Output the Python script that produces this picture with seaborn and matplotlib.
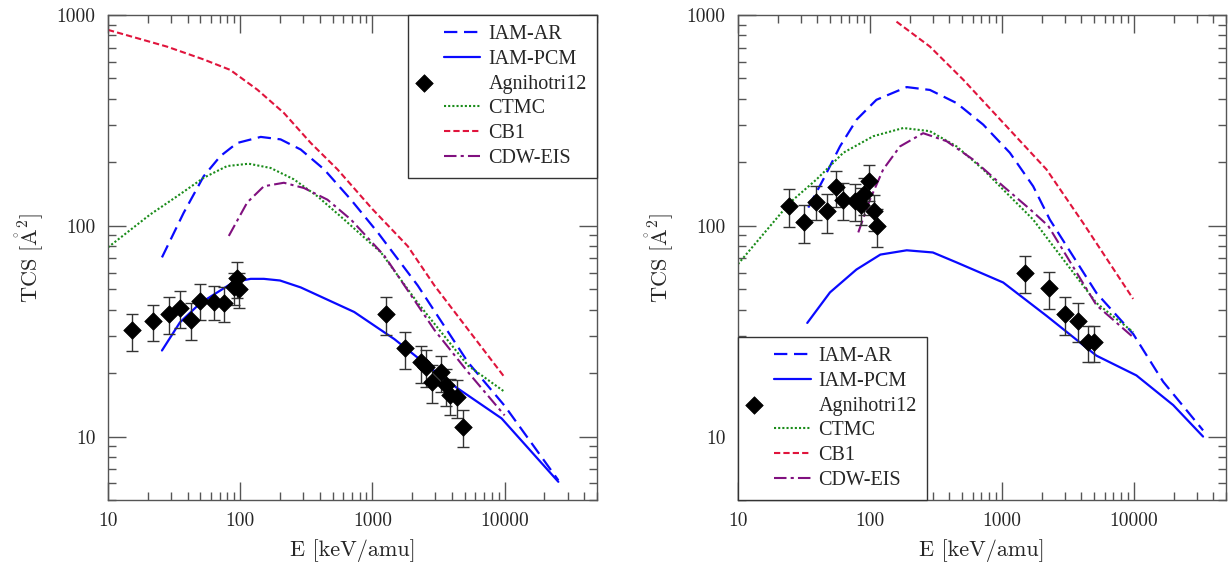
import numpy as np
import pandas as pd
import matplotlib
matplotlib.use("Agg")
import matplotlib.pyplot as plt
import matplotlib.ticker as mticker
from matplotlib.collections import PathCollection
from matplotlib.lines import Line2D
from matplotlib.legend_handler import HandlerLine2D, HandlerPathCollection
import seaborn as sns

# ---------------- data ----------------
# Left panel
L_iamar_x = [25.6, 37.3, 53, 70.8, 94.8, 143, 202, 287, 432, 688, 1097, 2206, 5290, 10000, 25500]
L_iamar_y = [70.8, 115, 172, 214, 247, 264, 257, 230, 185, 133, 93, 52, 22.5, 14, 6.2]
L_iampcm_x = [25.6, 35, 50, 89, 120, 151, 200, 287, 728, 1465, 3730, 9480, 25500]
L_iampcm_y = [25.6, 34.8, 43, 54, 56, 56, 55, 51, 39, 29, 18.2, 12.2, 6.1]
L_ctmc_x = [10, 20.8, 33.3, 53, 79.6, 116, 170, 255, 384, 612, 1161, 2206, 5290, 10000]
L_ctmc_y = [79, 113, 138, 169, 192, 197, 188, 166, 138, 107, 74.7, 43, 21.7, 16.3]
L_cb1_x = [10, 27.9, 53, 84, 135, 214, 342, 545, 1000, 1852, 2950, 10000]
L_cb1_y = [850, 708, 615, 549, 442, 343, 247, 185, 120, 80, 52, 19.1]
L_cdw_x = [82, 113, 151, 214, 304, 457, 688, 1233, 2950, 5290, 10000]
L_cdw_y = [89.5, 129, 154, 160, 151, 133, 107, 72, 32, 20.2, 12.6]
L_exp_x = [15.1, 21.8, 29, 35.2, 42.5, 49.4, 63, 76, 89.4, 94.8, 97.7,
           1268, 1770, 2313, 2555, 2820, 3316, 3620, 3840, 4390, 4850]
L_exp_y = [31.9, 35.3, 38.2, 40.7, 35.9, 44.2, 43.7, 43, 51, 56.3, 50.1,
           38.2, 26.2, 22.5, 21.4, 18.2, 20.2, 17.5, 15.7, 15.4, 11.1]
L_exp_err = [6.3, 7, 7.5, 8.1, 7.1, 8.6, 8.1, 8, 9, 10.7, 9.5,
             7.8, 5.3, 4.5, 4.3, 3.7, 4, 3.5, 3.1, 3.1, 2.2]

# Right panel
R_iamar_x = [34.1, 44.3, 59.3, 79.3, 112, 190, 285, 454, 722, 1150, 1727, 2310, 5210, 9890, 16700, 33500]
R_iamar_y = [122, 166, 238, 319, 396, 455, 441, 382, 302, 222, 154, 107, 48, 30.7, 18.2, 10.7]
R_iampcm_x = [33.5, 49.8, 79, 120, 190, 300, 454, 1024, 2180, 5210, 10470, 19900, 33500]
R_iampcm_y = [34.6, 48.3, 62, 73, 76.5, 74.7, 67, 53.8, 37.4, 24.2, 19.5, 14.1, 10]
R_ctmc_x = [10, 24.8, 39.4, 62.8, 106, 179, 285, 454, 722, 1150, 1727, 2310, 5210, 9890]
R_ctmc_y = [65.8, 129, 166, 222, 266, 291, 281, 238, 185, 138, 107, 84, 43, 31.3]
R_cb1_x = [159, 285, 510, 1024, 2180, 4135, 9890]
R_cb1_y = [930, 708, 493, 308, 185, 103, 45]
R_cdw_x = [81.6, 100, 126, 169, 253, 381, 606, 1024, 1629, 2244, 5210, 9890]
R_cdw_y = [93, 133, 185, 238, 275, 252, 206, 154, 120, 100, 42, 29.6]
R_exp_x = [24.3, 31.8, 39, 47, 55, 62, 77, 85, 90.6, 98.9, 107, 114,
           1503, 2270, 3020, 3810, 4510, 5000]
R_exp_y = [124, 104, 130, 117, 152, 133, 131, 126, 141, 163, 117, 99.7,
           60, 50.5, 38.2, 35.5, 28.1, 28.1]
R_exp_err = [25, 21, 24, 25, 29, 27, 26, 25, 28, 32, 23, 20,
             12, 10, 7.8, 7.4, 5.5, 5.5]

x_ticks = [10, 100, 1000, 10000]
x_ticklabels = ["10", "100", "1000", "10000"]
y_ticks = [10, 100, 1000]
y_ticklabels = ["10", "100", "1000"]
labels = ["IAM-AR", "IAM-PCM", "Agnihotri12", "CTMC", "CB1", "CDW-EIS"]

# ---------------- styling ----------------
sns.set_theme(style="white")
plt.rcParams["mathtext.fontset"] = "cm"
plt.rcParams["font.family"] = ["DejaVu Serif"]

BLUE = "#0a0aff"
RED = "#e0143c"
GREEN = "#1a8c1a"
PURPLE = "#80107f"
SPINE = "#555555"

fig = plt.figure(figsize=(12.3, 5.67), dpi=100)
axL = fig.add_axes([108 / 1230, 67 / 567, 489 / 1230, 485 / 567])
axR = fig.add_axes([738 / 1230, 67 / 567, 488 / 1230, 485 / 567])

styles = {
    "IAM-AR": dict(color=BLUE, linestyle=(0, (6, 3)), linewidth=1.6),
    "IAM-PCM": dict(color=BLUE, linestyle="-", linewidth=1.6),
    "CTMC": dict(color=GREEN, linestyle=(0, (1, 1)), linewidth=1.5),
    "CB1": dict(color=RED, linestyle=(0, (3, 1.5)), linewidth=1.5),
    "CDW-EIS": dict(color=PURPLE, linestyle=(0, (6, 2, 1.5, 2)), linewidth=1.5),
}


class RightLine(HandlerLine2D):
    def get_xdata(self, legend, xdescent, ydescent, width, height, fontsize):
        xd = np.array([-xdescent + 0.42 * width, -xdescent + width])
        return xd, xd


class LeftMarker(HandlerPathCollection):
    def get_xdata(self, legend, xdescent, ydescent, width, height, fontsize):
        xd = np.array([-xdescent + 0.1 * width])
        return xd, xd


def draw(ax, curves, ex, ey, eerr, legend_loc):
    for name, (xs, ys) in curves.items():
        df = pd.DataFrame({"E": xs, "TCS": ys})
        sns.lineplot(data=df, x="E", y="TCS", ax=ax, sort=False,
                     label=name, **styles[name])
    dfe = pd.DataFrame({"E": ex, "TCS": ey, "err": eerr})
    ax.errorbar(dfe["E"], dfe["TCS"], yerr=dfe["err"], fmt="none",
                ecolor="#333333", elinewidth=1.0, capsize=4, capthick=1.0,
                zorder=3)
    sns.scatterplot(data=dfe, x="E", y="TCS", ax=ax, marker="D", s=80,
                    color="black", edgecolor="black", linewidth=0.5,
                    label="Agnihotri12", zorder=4)
    ax.set_xscale("log")
    ax.set_yscale("log")
    ax.set_xlim(10, 5e4)
    ax.set_ylim(5, 1000)
    ax.xaxis.set_major_locator(mticker.FixedLocator(x_ticks))
    ax.xaxis.set_major_formatter(mticker.FixedFormatter(x_ticklabels))
    ax.yaxis.set_major_locator(mticker.FixedLocator(y_ticks))
    ax.yaxis.set_major_formatter(mticker.FixedFormatter(y_ticklabels))
    ax.xaxis.set_minor_locator(mticker.LogLocator(base=10, subs=np.arange(2, 10), numticks=20))
    ax.yaxis.set_minor_locator(mticker.LogLocator(base=10, subs=np.arange(2, 10), numticks=20))
    ax.xaxis.set_minor_formatter(mticker.NullFormatter())
    ax.yaxis.set_minor_formatter(mticker.NullFormatter())
    ax.tick_params(which="both", direction="in", top=True, right=True,
                   bottom=True, left=True, color=SPINE, width=1.0)
    ax.tick_params(which="major", length=13, labelsize=14, pad=9)
    ax.tick_params(which="minor", length=6)
    for lab in ax.get_xticklabels() + ax.get_yticklabels():
        lab.set_family("cmr10")
    for sp in ax.spines.values():
        sp.set_color(SPINE)
        sp.set_linewidth(1.0)
    ax.set_xlabel("E [keV/amu]", fontsize=16, family="cmr10", labelpad=6)
    ax.set_ylabel(r"TCS [$\mathring{\mathrm{A}}^2$]", fontsize=16, labelpad=8)
    ax.yaxis.label.set_family("cmr10")

    handles, labs = ax.get_legend_handles_labels()
    order = [labs.index(l) for l in labels]
    leg = ax.legend([handles[i] for i in order], [labs[i] for i in order],
                    loc=legend_loc, borderaxespad=0, frameon=True,
                    fancybox=False, edgecolor="#333333", framealpha=1,
                    handlelength=3.1, handletextpad=0.4, borderpad=0.5,
                    labelspacing=0.28, scatterpoints=1,
                    handler_map={Line2D: RightLine(), PathCollection: LeftMarker()},
                    prop={"family": "Liberation Serif", "size": 14.5})
    leg.get_frame().set_linewidth(1.0)


draw(axL,
     {"IAM-AR": (L_iamar_x, L_iamar_y), "IAM-PCM": (L_iampcm_x, L_iampcm_y),
      "CTMC": (L_ctmc_x, L_ctmc_y), "CB1": (L_cb1_x, L_cb1_y),
      "CDW-EIS": (L_cdw_x, L_cdw_y)},
     L_exp_x, L_exp_y, L_exp_err, "upper right")
draw(axR,
     {"IAM-AR": (R_iamar_x, R_iamar_y), "IAM-PCM": (R_iampcm_x, R_iampcm_y),
      "CTMC": (R_ctmc_x, R_ctmc_y), "CB1": (R_cb1_x, R_cb1_y),
      "CDW-EIS": (R_cdw_x, R_cdw_y)},
     R_exp_x, R_exp_y, R_exp_err, "lower left")

fig.savefig("out.png", dpi=100, facecolor="white")
